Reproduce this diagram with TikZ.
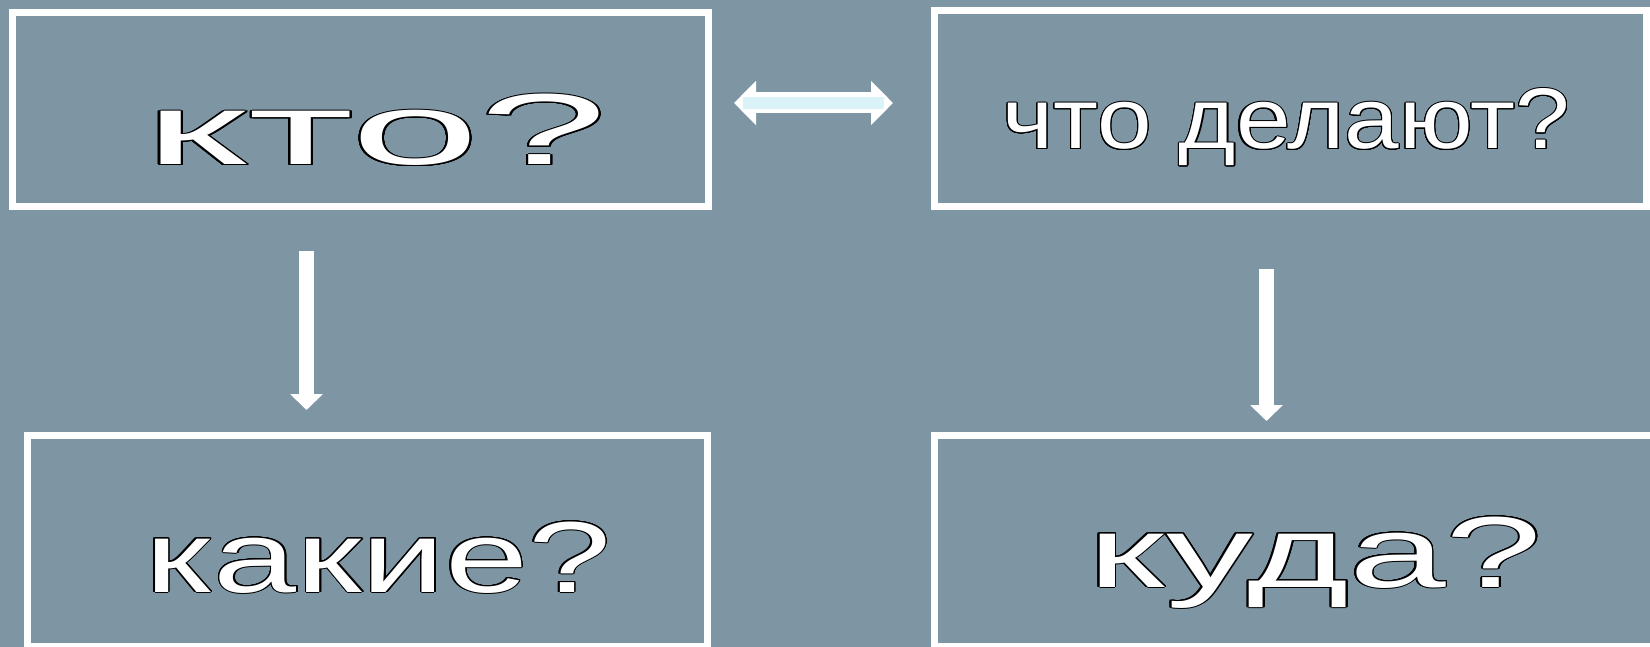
\documentclass[tikz,border=0pt]{standalone}
\usepackage{fontspec}
\setmainfont{Liberation Sans}
\usepackage{graphicx}
\usepackage[copies]{contour}
\contourlength{1.0pt}
\contournumber{24}
\usetikzlibrary{arrows.meta}
\definecolor{bg}{RGB}{126,149,163}
\definecolor{arrowcyan}{RGB}{218,243,248}
\tikzset{
  box/.style={draw=white, line width=7, rectangle, inner sep=0},
  lbl/.style={text=white, anchor=base west, inner sep=0, font=\fontsize{101}{101}\selectfont},
  lblsmall/.style={lbl, font=\fontsize{86}{86}\selectfont},
  downarr/.style={draw=white, line width=15, -{Triangle[length=16, width=32]}},
  dblarr/.style={draw=white, line width=21, {Triangle[length=22, width=43]}-{Triangle[length=22, width=43]}},
  dblin/.style={draw=arrowcyan, line width=12}
}
\begin{document}
\begin{tikzpicture}[x=1pt, y=-1pt]
\useasboundingbox (0,0) rectangle (1650,647);
\fill[bg] (0,0) rectangle (1650,647);
% boxes
\node[box, minimum width=696, minimum height=194] (kto) at (360.5,110) {};
\node[box, minimum width=711.5, minimum height=196] (chto) at (1290.25,109) {};
\node[box, minimum width=680.5, minimum height=211] (kakie) at (367.25,541) {};
\node[box, minimum width=721, minimum height=211] (kuda) at (1295,541) {};
% texts
\node[lbl] (tkto) at (145,165) {\resizebox{462pt}{\height}{\contour{black}{кто?}}};
\node[lblsmall] (tchto) at (1002,149) {\resizebox{568pt}{\height}{\contour{black}{что делают?}}};
\node[lbl] (tkakie) at (145,592) {\resizebox{466pt}{\height}{\contour{black}{какие?}}};
\node[lbl] (tkuda) at (1088,587) {\resizebox{454pt}{\height}{\contour{black}{куда?}}};
% helper coordinates
\coordinate (lx) at (306.5,0);
\coordinate (rx) at (1266.5,0);
\coordinate (dy) at (0,103);
% arrows
\draw[downarr, shorten <=40.5, shorten >=22] (kto.south -| lx) -- (kakie.north -| lx);
\draw[downarr, shorten <=58.5, shorten >=11] (chto.south -| rx) -- (kuda.north -| rx);
\draw[dblarr, shorten <=22, shorten >=38] (kto.east |- dy) -- (chto.west |- dy);
\draw[dblin, shorten <=31, shorten >=47] (kto.east |- dy) -- (chto.west |- dy);
\end{tikzpicture}
\end{document}
